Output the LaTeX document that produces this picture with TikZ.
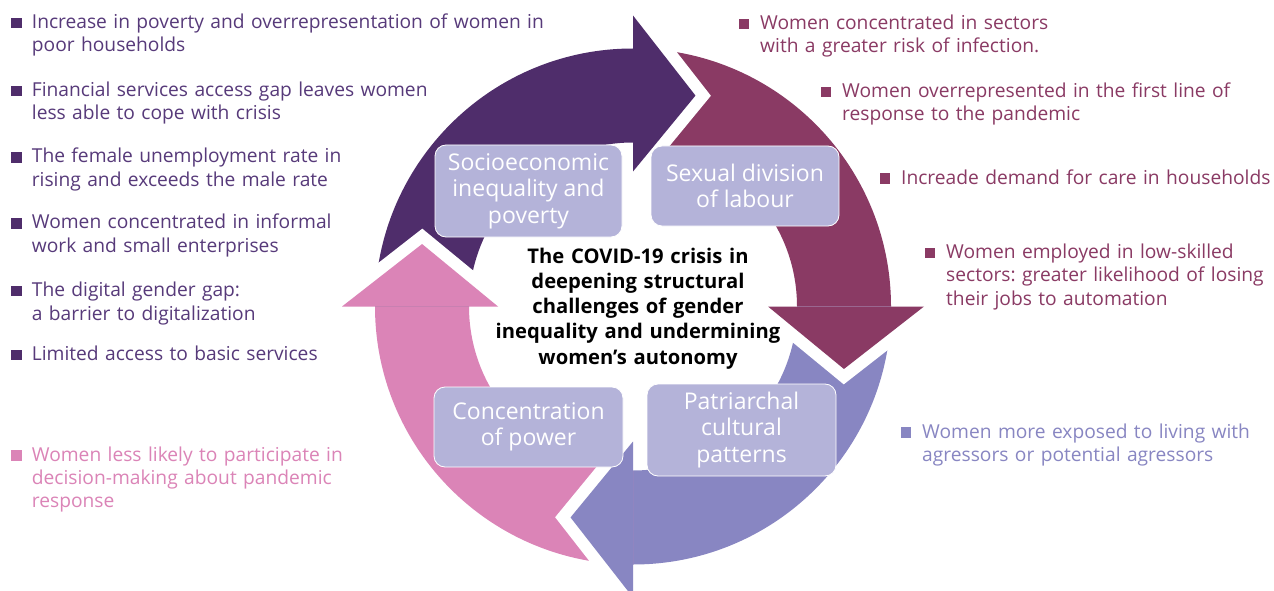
\documentclass[tikz,border=0pt]{standalone}
\usepackage{fontspec}
\setmainfont{Open Sans}
\usetikzlibrary{calc}
\frenchspacing

\definecolor{cPurple}{HTML}{4F2D6B}
\definecolor{cPurpleTxt}{HTML}{573A7A}
\definecolor{cMaroon}{HTML}{8A3A64}
\definecolor{cBlue}{HTML}{8886C2}
\definecolor{cPink}{HTML}{DB84B7}
\definecolor{cBox}{HTML}{B4B3D9}

% ring geometry (pt): outer/inner radius, barb radii, tip radius, head length (deg)
\newcommand\ringRo{258}
\newcommand\ringRi{164}
\newcommand\barbOut{291}
\newcommand\barbIn{135}
\newcommand\tipR{220}
\newcommand\headLen{16.5}

% body of one arrow: annular sector from angle #2 down to angle #3
\newcommand\ringsector[3]{%
  \fill[#1] (#2:\ringRo pt) arc[start angle=#2, end angle=#3, radius=\ringRo pt]
    -- (#3:\ringRi pt) arc[start angle=#3, end angle=#2, radius=\ringRi pt] -- cycle;}
% head of one arrow with its base at angle #2, white gap along its slanted edges
\newcommand\ringhead[2]{%
  \draw[white, line width=24pt, line join=miter]
    (#2:\barbOut pt) -- ({#2-\headLen}:\tipR pt) -- (#2:\barbIn pt);
  \fill[#1] (#2:\barbOut pt) -- ({#2-\headLen}:\tipR pt) -- (#2:\barbIn pt) -- cycle;}

\tikzset{
  stagebox/.style={fill=cBox, draw=white, line width=0.8pt, rounded corners=11pt,
    inner sep=0pt, text=white, align=center,
    font=\fontsize{23}{26.4}\selectfont},
  listtext/.style={anchor=base west, inner sep=0pt, text width=560pt, align=left,
    font=\fontsize{19.2}{23.4}\selectfont},
  bulletsq/.style={minimum size=10.5pt, inner sep=0pt, fill=#1},
}

\begin{document}
\begin{tikzpicture}[x=1pt, y=-1pt]
\useasboundingbox (0,0) rectangle (1274,591);
\fill[white] (0,0) rectangle (1274,591);

% the four circular arrows
\begin{scope}[shift={(633,306.5)}, x=1pt, y=1pt]
  \ringsector{cPurple}{180}{90}
  \ringsector{cMaroon}{90}{0}
  \ringsector{cBlue}{0}{-90}
  \ringsector{cPink}{-90}{-180}
  \ringhead{cPurple}{90}
  \ringhead{cMaroon}{0}
  \ringhead{cBlue}{-90}
  \ringhead{cPink}{180}
\end{scope}

% stage labels
\node[stagebox, minimum width=187pt, minimum height=92pt] (socio) at (528.5,191)
  {Socioeconomic\\inequality and\\poverty};
\node[stagebox, minimum width=188pt, minimum height=80pt] (sexual) at (745,186)
  {Sexual division\\of labour};
\node[stagebox, minimum width=189pt, minimum height=80pt] (power) at (528.5,427)
  {Concentration\\of power};
\node[stagebox, minimum width=189pt, minimum height=92pt] (patri) at (741.5,430)
  {Patriarchal\\cultural\\patterns};

% centre statement
\node[anchor=base, inner sep=0pt, text width=320pt, align=center,
  font=\bfseries\fontsize{20.2}{25.2}\selectfont] (crisis) at (638,263.3)
  {The COVID-19 crisis in\\deepening structural\\challenges of gender\\inequality and undermining\\women’s autonomy};

% left list
\node[listtext, text=cPurpleTxt] (l1) at (31.7,28.3)
  {Increase in poverty and overrepresentation of women in\\poor households};
\node[listtext, text=cPurpleTxt] (l2) at (31.7,96.5)
  {Financial services access gap leaves women\\less able to cope with crisis};
\node[listtext, text=cPurpleTxt] (l3) at (31.7,162.8)
  {The female unemployment rate in\\rising and exceeds the male rate};
\node[listtext, text=cPurpleTxt] (l4) at (31.7,228.8)
  {Women concentrated in informal\\work and small enterprises};
\node[listtext, text=cPurpleTxt] (l5) at (31.7,296.7)
  {The digital gender gap:\\a barrier to digitalization};
\node[listtext, text=cPurpleTxt] (l6) at (31.7,360.7)
  {Limited access to basic services};
\node[listtext, text=cPink] (l7) at (31.7,461)
  {Women less likely to participate in\\decision-making about pandemic\\response};

\foreach \i/\c in {1/cPurple,2/cPurple,3/cPurple,4/cPurple,5/cPurple,6/cPurple,7/cPink}
  \node[bulletsq=\c] (lb\i) at ($(l\i.base west)+(-15,-5.5)$) {};

% right list
\node[listtext, text=cMaroon] (r1) at (760,29.5)
  {Women concentrated in sectors\\with a greater risk of infection.};
\node[listtext, text=cMaroon] (r2) at (842,97.3)
  {Women overrepresented in the first line of\\response to the pandemic};
\node[listtext, text=cMaroon] (r3) at (901,184)
  {Increade demand for care in households};
\node[listtext, text=cMaroon] (r4) at (946,258.3)
  {Women employed in low-skilled\\sectors: greater likelihood of losing\\their jobs to automation};
\node[listtext, text=cBlue] (r5) at (922,438)
  {Women more exposed to living with\\agressors or potential agressors};

\foreach \i/\c in {1/cMaroon,2/cMaroon,3/cMaroon,4/cMaroon,5/cBlue}
  \node[bulletsq=\c] (rb\i) at ($(r\i.base west)+(-16,-5.5)$) {};
\end{tikzpicture}
\end{document}
